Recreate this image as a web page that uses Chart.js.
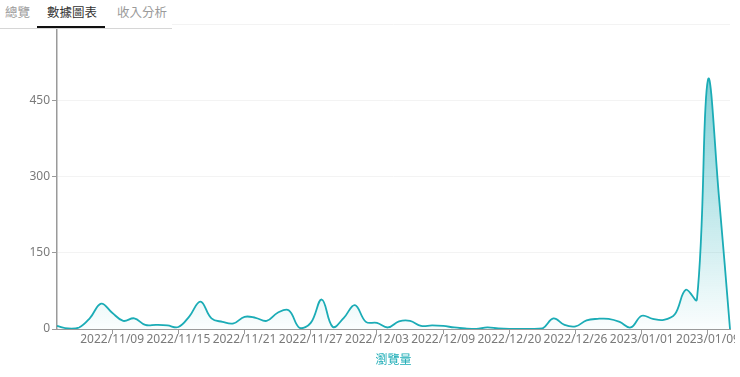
<!DOCTYPE html>
<html lang="zh-Hant">
<head>
    <meta charset="UTF-8">
    <title>數據圖表 - 瀏覽量</title>
    <script src="https://cdn.jsdelivr.net/npm/chart.js"></script>
    <style>
        body {
            margin: 0;
            padding: 0;
            background: #fff;
            font-family: "Noto Sans CJK TC", "Noto Sans", sans-serif;
        }
        #wrap {
            position: relative;
            width: 740px;
            height: 377px;
            overflow: hidden;
        }
        #viewChart {
            position: absolute;
            left: 0;
            top: 0;
        }
        /* 上方的分頁標籤 */
        .tabs {
            position: absolute;
            left: 0;
            top: 0;
            width: 172px;
            height: 28px;
            background: #fff;
            border-bottom: 1px solid #d6d6d6;
            z-index: 2;
        }
        .tab {
            position: absolute;
            top: 3px;
            font-size: 12.5px;
            line-height: 18px;
            color: #9a9a9a;
        }
        .tab.active {
            color: #333;
        }
        .tab.active::after {
            content: "";
            position: absolute;
            left: -10px;
            right: -8px;
            top: 23px;
            height: 2px;
            background: #111;
        }
    </style>
</head>
<body>
<div id="wrap">
    <div class="tabs">
        <span class="tab" style="left:5px">總覽</span>
        <span class="tab active" style="left:47px">數據圖表</span>
        <span class="tab" style="left:117px">收入分析</span>
    </div>
    <canvas id="viewChart" width="735" height="377"></canvas>
</div>

<script>
    // 日期 (部分日期沒有資料)
    const dates = [
        '2022/11/04', '2022/11/05', '2022/11/06', '2022/11/07', '2022/11/08', '2022/11/09',
        '2022/11/10', '2022/11/11', '2022/11/12', '2022/11/13', '2022/11/14', '2022/11/15',
        '2022/11/16', '2022/11/17', '2022/11/18', '2022/11/19', '2022/11/20', '2022/11/21',
        '2022/11/22', '2022/11/23', '2022/11/24', '2022/11/25', '2022/11/26', '2022/11/27',
        '2022/11/28', '2022/11/29', '2022/11/30', '2022/12/01', '2022/12/02', '2022/12/03',
        '2022/12/04', '2022/12/05', '2022/12/06', '2022/12/07', '2022/12/08', '2022/12/09',
        '2022/12/10', '2022/12/12', '2022/12/14', '2022/12/16', '2022/12/18', '2022/12/20',
        '2022/12/21', '2022/12/22', '2022/12/23', '2022/12/24', '2022/12/25', '2022/12/26',
        '2022/12/27', '2022/12/28', '2022/12/29', '2022/12/30', '2022/12/31', '2023/01/01',
        '2023/01/02', '2023/01/03', '2023/01/05', '2023/01/06', '2023/01/08', '2023/01/09',
        '2023/01/10', '2023/01/11'
    ];

    // 每日瀏覽量
    const views = [
        6, 1, 3, 22, 50, 32, 16, 21, 8, 8, 7, 4,
        25, 54, 21, 14, 11, 24, 22, 16, 32, 37, 2, 12,
        58, 4, 22, 47, 14, 12, 3, 15, 16, 6, 7, 6,
        3, 1, 0, 3, 1, 0, 0, 0, 1, 21, 8, 5,
        17, 20, 20, 14, 3, 26, 20, 18, 29, 77, 58, 490,
        260, 0
    ];

    const yTicks = [0, 150, 300, 450, 600];

    const seriesName = '瀏覽量';
    const teal = 'rgb(27, 172, 182)';

    // 面積的漸層 (上深下淡)
    function areaGradient(context) {
        const chart = context.chart;
        const area = chart.chartArea;
        if (!area) return 'rgba(27,172,182,0.1)';
        const yScale = chart.scales.y;
        const topY = yScale.getPixelForValue(Math.max(...views));
        const g = chart.ctx.createLinearGradient(0, topY, 0, area.bottom);
        g.addColorStop(0, 'rgba(27,172,182,0.55)');
        g.addColorStop(1, 'rgba(27,172,182,0.02)');
        return g;
    }

    const ctx = document.getElementById('viewChart').getContext('2d');
    new Chart(ctx, {
        type: 'line',
        data: {
            labels: dates,
            datasets: [{
                label: seriesName,
                data: views,
                borderColor: teal,
                borderWidth: 1.8,
                backgroundColor: areaGradient,
                fill: 'origin',
                tension: 0.4,
                pointRadius: 0,
                pointHoverRadius: 3
            }]
        },
        options: {
            responsive: false,
            animation: false,
            layout: {
                padding: { top: 24, right: 5, bottom: 10, left: 0 }
            },
            plugins: {
                legend: { display: false },
                tooltip: { enabled: true }
            },
            scales: {
                x: {
                    offset: false,
                    afterFit: s => { s.height = 38; },
                    ticks: {
                        autoSkip: false,
                        maxRotation: 0,
                        color: '#7a7a7a',
                        padding: -2,
                        font: { family: 'Noto Sans', size: 12 },
                        callback: function (v, i) {
                            return i % 6 === 5 ? dates[i] : '';
                        }
                    },
                    grid: {
                        drawOnChartArea: false,
                        tickLength: 5,
                        color: c => (c.index % 6 === 5 ? '#9a9a9a' : 'rgba(0,0,0,0)')
                    },
                    border: { color: '#9a9a9a', width: 1 },
                    title: {
                        display: true,
                        text: seriesName,
                        color: teal,
                        font: { family: 'Noto Sans CJK TC', size: 12 },
                        padding: { top: 4, bottom: 0 }
                    }
                },
                y: {
                    min: 0,
                    max: 600,
                    afterFit: s => { s.width = 57; },
                    afterBuildTicks: s => { s.ticks = yTicks.map(v => ({ value: v })); },
                    ticks: {
                        color: '#7a7a7a',
                        padding: 2,
                        font: { family: 'Noto Sans', size: 12 }
                    },
                    grid: {
                        color: '#f3f3f3',
                        tickColor: '#9a9a9a',
                        tickLength: 5
                    },
                    border: { color: '#9a9a9a', width: 1.5 }
                }
            }
        }
    });
</script>
</body>
</html>
